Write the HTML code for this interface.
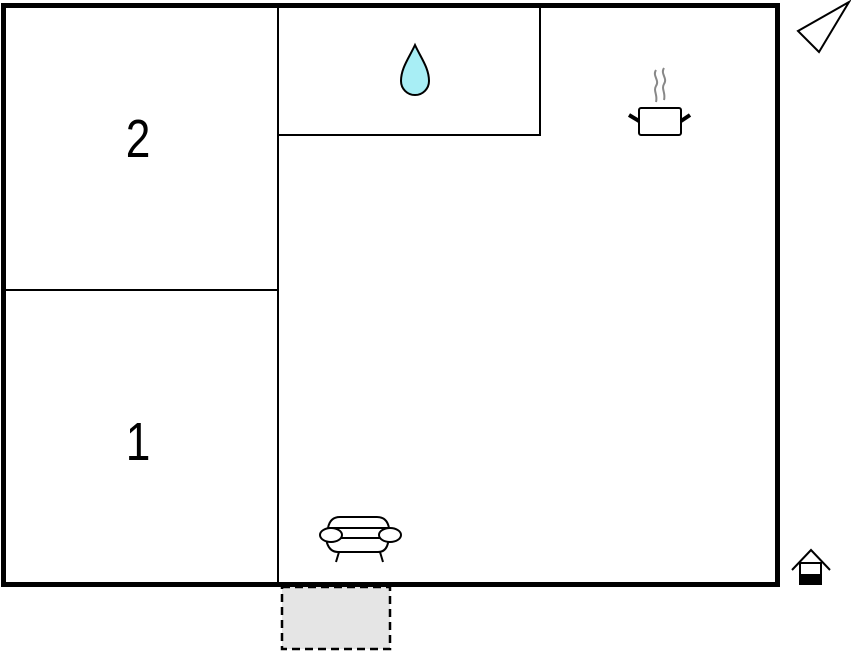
<!DOCTYPE html>
<html><head><style>html,body{margin:0;padding:0;background:#fff}svg{display:block}</style></head>
<body>
<svg width="851" height="652" viewBox="0 0 851 652" xmlns="http://www.w3.org/2000/svg">
<rect x="282" y="587" width="108" height="62" fill="#e5e5e5" stroke="#000" stroke-width="2.5" stroke-dasharray="8,5"/>
<line x1="278" y1="5" x2="278" y2="585" stroke="#000" stroke-width="2"/>
<line x1="2" y1="290" x2="278" y2="290" stroke="#000" stroke-width="2"/>
<polyline points="278,135 540,135 540,5" fill="none" stroke="#000" stroke-width="2"/>
<rect x="3.5" y="5.5" width="774" height="579" fill="none" stroke="#000" stroke-width="5"/>
<text transform="translate(138,157) scale(0.82,1)" font-family="Liberation Sans, sans-serif" font-size="54" text-anchor="middle">2</text>
<text transform="translate(138,460) scale(0.82,1)" font-family="Liberation Sans, sans-serif" font-size="54" text-anchor="middle">1</text>
<path d="M415,45 C409,58 401,68 401,81 A14,14 0 0 0 429,81 C429,68 421,58 415,45 Z" fill="#a8eef5" stroke="#000" stroke-width="2"/>
<g fill="none" stroke="#000" stroke-width="2">
<rect x="639" y="108" width="42" height="27" rx="2"/>
<line x1="629" y1="115" x2="639" y2="121" stroke-width="4"/>
<line x1="681" y1="121" x2="690" y2="115" stroke-width="4"/>
</g>
<g fill="none" stroke="#888" stroke-width="2">
<path d="M656,70 c-4,6 4,10 0,16 c-3,5 2,9 0,16"/>
<path d="M664,68 c-4,6 4,10 0,16 c-3,5 2,9 0,16"/>
</g>
<polygon points="849,2 819,52 798,31" fill="#fff" stroke="#000" stroke-width="2"/>
<g fill="#fff" stroke="#000" stroke-width="2">
<path d="M328,528 Q330,517 340,517 L377,517 Q387,517 389,528 Z"/>
<path d="M326,538 L327,543 Q330,552 338,552 L378,552 Q386,552 388,543 L390,538 Z"/>
<line x1="335" y1="538" x2="385" y2="538"/>
<ellipse cx="331" cy="535" rx="11" ry="7"/>
<ellipse cx="390" cy="535" rx="11" ry="7"/>
<line x1="339" y1="552" x2="336" y2="562"/>
<line x1="380" y1="552" x2="383" y2="562"/>
</g>
<g stroke="#000" stroke-width="2" fill="none">
<polyline points="792,570 811,550 830,570"/>
<rect x="800" y="563" width="21" height="21" fill="#fff"/>
</g>
<rect x="800" y="574" width="21" height="11" fill="#000"/>
</svg>
</body></html>
